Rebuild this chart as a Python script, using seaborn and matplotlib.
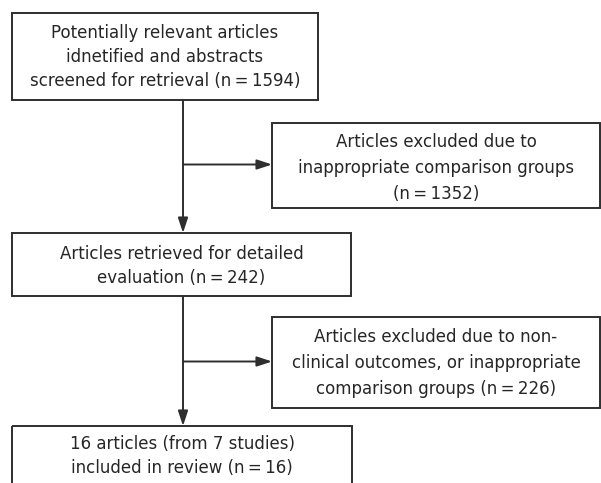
import matplotlib.pyplot as plt
import seaborn as sns
from matplotlib.patches import Rectangle

# Flowchart text and counts
stage_text = [
    "Potentially relevant articles\nidnetified and abstracts\nscreened for retrieval (n{eq}{n})",
    "Articles retrieved for detailed\nevaluation (n{eq}{n})",
    "16 articles (from 7 studies)\nincluded in review (n{eq}{n})",
]
stage_n = [1594, 242, 16]
excluded_text = [
    "Articles excluded due to\ninappropriate comparison groups\n(n{eq}{n})",
    "Articles excluded due to non-\nclinical outcomes, or inappropriate\ncomparison groups (n{eq}{n})",
]
excluded_n = [1352, 226]

sns.set_style("white")
plt.rcParams['font.family'] = ['DejaVu Sans']

fig = plt.figure(figsize=(6.01, 4.83), dpi=100)
ax = fig.add_axes([0, 0, 1, 1])
ax.set_xlim(0, 601)
ax.set_ylim(483, 0)
ax.axis("off")

col = "#2e2e2e"
lw = 1.4
eq = "\u2009=\u2009"

# layout in pixel coordinates: (x0, y0, x1, y1)
main_boxes = [(12, 13, 318, 100), (12, 233, 351, 296), (12, 426, 352, 500)]
side_boxes = [(272, 123, 600, 208), (272, 317, 600, 408)]
text_y = [57, 266, 456]
side_text_y = [168, 363]


def box(b, label, cy, spacing):
    x0, y0, x1, y1 = b
    ax.add_patch(Rectangle((x0, y0), x1 - x0, y1 - y0, fill=False,
                           edgecolor=col, linewidth=lw, clip_on=False))
    ax.text((x0 + x1) / 2, cy, label, ha="center", va="center",
            fontsize=12, color="#262626", linespacing=spacing)


for b, t, n, ty in zip(main_boxes, stage_text, stage_n, text_y):
    box(b, t.format(eq=eq, n=n), ty, 1.45)
for b, t, n, ty in zip(side_boxes, excluded_text, excluded_n, side_text_y):
    box(b, t.format(eq=eq, n=n), ty, 1.55)

spine_x = 183
arrow_kw = dict(arrowstyle="-|>,head_length=1.0,head_width=0.33", color=col,
                lw=lw, mutation_scale=9, shrinkA=0, shrinkB=0)
for upper, lower, side in zip(main_boxes[:-1], main_boxes[1:], side_boxes):
    ax.annotate("", xy=(spine_x, lower[1]), xytext=(spine_x, upper[3]),
                arrowprops=arrow_kw)
    ym = (side[1] + side[3]) / 2 - 1
    ax.annotate("", xy=(side[0], ym), xytext=(spine_x, ym),
                arrowprops=arrow_kw)

fig.savefig("out.png", dpi=100, facecolor="white")
